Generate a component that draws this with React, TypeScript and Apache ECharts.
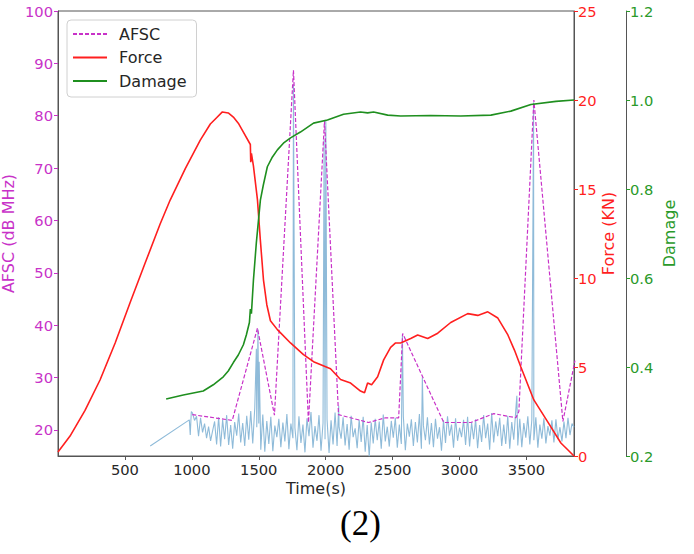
import React, { useEffect, useRef } from "react";
import * as echarts from "echarts";

// ---- axis ticks ----
const timeTicks = [500, 1000, 1500, 2000, 2500, 3000, 3500];
const afscTicks = [20, 30, 40, 50, 60, 70, 80, 90, 100];

// ---- AFSC (dashed magenta) [time, dB MHz] ----
const afscPoints: [number, number][] = [
  [1003, 22.9], [1302, 21.8], [1490, 39.4], [1617, 22.8], [1759, 88.7],
  [1871, 21.4], [1991, 79.0], [2096, 22.9], [2320, 21.4], [2448, 22.3],
  [2545, 22.3], [2575, 38.4], [2882, 21.4], [3084, 21.4], [3256, 23.1],
  [3421, 22.3], [3443, 23.5], [3555, 83.0], [3772, 21.6], [3862, 33.2],
];

// ---- Force (red) [time, kN] ----
const forcePoints: [number, number][] = [
  [0, 0.22], [90, 1.12], [202, 2.56], [314, 4.27], [427, 6.35], [539, 8.62],
  [651, 10.84], [763, 13.03], [838, 14.38], [951, 16.15], [1063, 17.75],
  [1138, 18.65], [1183, 18.99], [1228, 19.33], [1272, 19.27], [1310, 19.04],
  [1347, 18.7], [1385, 18.2], [1437, 17.5],
  [1440, 16.5], [1445, 17.0], [1460, 16.3], [1490, 14.4], [1512, 12.1],
  [1535, 9.9], [1560, 8.5], [1587, 7.6], [1639, 7.1], [1737, 6.35], [1834, 5.7],
  [1909, 5.3], [2036, 4.9], [2111, 4.3], [2186, 4.1], [2260, 3.65],
  [2290, 3.55], [2313, 4.1], [2343, 4.0], [2388, 4.45], [2433, 5.4],
  [2485, 6.1], [2522, 6.35], [2560, 6.35], [2635, 6.6], [2687, 6.8],
  [2762, 6.6], [2837, 6.9], [2934, 7.5], [3061, 8.0], [3136, 7.9],
  [3211, 8.1], [3286, 7.75], [3361, 6.8], [3410, 5.95], [3458, 5.0], [3555, 3.15],
  [3660, 1.9], [3757, 0.73], [3810, 0.34], [3855, 0.0],
];

// ---- Damage (green) [time, damage] ----
const damagePoints: [number, number][] = [
  [808, 0.328], [936, 0.337], [1085, 0.346], [1160, 0.36], [1235, 0.378],
  [1272, 0.391], [1310, 0.41], [1347, 0.427], [1385, 0.45], [1407, 0.472],
  [1430, 0.5], [1437, 0.53], [1445, 0.52],
  [1460, 0.595], [1482, 0.68], [1512, 0.775], [1534, 0.809], [1564, 0.85],
  [1602, 0.872], [1639, 0.888], [1684, 0.903],
  [1737, 0.915], [1811, 0.928], [1909, 0.948], [2013, 0.955], [2133, 0.968],
  [2260, 0.973], [2313, 0.971], [2358, 0.973], [2463, 0.966], [2560, 0.964],
  [2784, 0.965], [3009, 0.964], [3234, 0.966], [3383, 0.975], [3533, 0.99],
  [3720, 0.997], [3855, 1.0],
];

// ---- raw AFSC signal (light blue) ----
const rawLead: [number, number][] = [
  [689, 16.9], [981, 21.9], [988, 19.0], [996, 23.5],
];
const rawStart = 1005;
const rawStep = 15;
const rawValues = [
  23.2, 21.8, 22.6, 18.8, 22.3, 19.5, 21.2, 18.4, 20.6, 17.9,
  19.8, 21.6, 17.2, 22.4, 16.8, 21.9, 18.2, 22.8, 17.1, 20.9,
  16.4, 21.5, 18.9, 23.1, 17.6, 21.3, 16.9, 22.7, 18.1, 23.6,
  17.4, 24.2, 20.5, 21.2, 16.2, 22.9, 15.8, 21.7, 17.3, 22.5,
  15.9, 20.8, 18.6, 22.1, 16.7, 21.4, 17.8, 23.0, 16.3, 21.2,
  18.4, 20.4, 16.1, 22.6, 17.5, 21.0, 15.7, 22.2, 18.8, 23.4,
  16.6, 20.7, 17.9, 22.8, 16.0, 21.3, 18.2, 22.0, 15.6, 21.8,
  17.2, 23.3, 16.9, 20.5, 18.3, 22.4, 17.0, 21.1, 16.2, 22.7,
  18.6, 20.3, 16.5, 21.9, 17.7, 22.5, 15.8, 20.9, 14.9, 21.4,
  17.4, 22.1, 18.0, 21.6, 16.4, 22.9, 17.8, 20.6, 16.8, 21.7,
  18.5, 22.3, 16.6, 21.0, 17.3, 22.6, 16.1, 21.2, 18.7, 22.0,
  16.9, 21.5, 17.6, 23.0, 16.4, 20.8, 18.0, 22.4, 17.2, 21.3,
  16.7, 22.1, 18.3, 20.5, 16.0, 21.8, 17.5, 22.6, 18.9, 21.0,
  16.6, 22.2, 17.9, 20.4, 18.6, 21.9, 17.1, 22.5, 16.8, 21.4,
  18.2, 22.0, 16.5, 20.9, 17.7, 22.8, 18.4, 21.2, 16.2, 23.2,
  17.6, 21.6, 18.8, 22.3, 16.9, 21.0, 17.3, 22.7, 16.4, 21.5,
  18.1, 23.8, 17.0, 22.1, 16.7, 21.3, 18.5, 22.6, 17.2, 21.9,
  18.0, 22.4, 16.6, 21.0, 18.3, 22.2, 17.4, 20.7, 18.9, 21.8,
  17.6, 22.0, 18.2, 20.5, 17.8, 21.6, 18.4, 22.3, 19.0, 21.2,
  20.5,
];
const rawSpikes: [number, number][] = [
  [1482, 35.5], [1494, 39.2], [1503, 33.0], [1759, 86.0], [1988, 75.5],
  [2001, 79.0], [2097, 24.6], [2573, 38.2], [2722, 30.0], [3428, 26.5],
  [3553, 82.5],
];

const rawPoints: [number, number][] = [
  ...rawLead,
  ...rawValues.map((v, i) => [rawStart + i * rawStep, v] as [number, number]),
  ...rawSpikes,
].sort((a, b) => a[0] - b[0]);

const MAGENTA = "#c832c8";
const RED = "#ff1f1f";
const GREEN = "#1f8f1f";
const GREEN_TXT = "#2a9a2a";
const BLUE = "#8fbbd9";
const SPINE = "#555555";
const FONT = "DejaVu Sans";
const TICK_FS = 14.7;
const TITLE_FS = 16;

export default function App() {
  const ref = useRef<HTMLDivElement>(null);
  useEffect(() => {
    const chart = echarts.init(ref.current!, null, { renderer: "svg" });
    chart.setOption({
      animation: false,
      backgroundColor: "#ffffff",
      grid: {
        left: 58, right: 120, top: 11, bottom: 98,
        containLabel: false, outerBoundsMode: "none",
        show: true, borderColor: SPINE, borderWidth: 1,
        backgroundColor: "transparent",
      },
      legend: {
        data: ["AFSC", "Force", "Damage"],
        orient: "vertical",
        left: 67, top: 20,
        itemWidth: 34, itemHeight: 14, itemGap: 7.5,
        padding: [6, 10, 8, 5],
        itemStyle: { opacity: 0, borderWidth: 0 },
        backgroundColor: "rgba(255,255,255,0.85)",
        borderColor: "#d0d0d0", borderWidth: 1, borderRadius: 4,
        textStyle: { fontFamily: FONT, fontSize: TITLE_FS, color: "#262626", padding: [0, 0, 0, 7] },
      },
      graphic: [
        {
          type: "text", left: 340, top: 506,
          style: { text: "(2)", fontFamily: "Liberation Serif", fontSize: 35, fill: "#000" },
        },
      ],
      xAxis: {
        type: "value", min: 0, max: 3855,
        name: "Time(s)", nameLocation: "middle", nameGap: 24, nameMoveOverlap: false,
        nameTextStyle: { fontFamily: FONT, fontSize: TITLE_FS, color: "#262626" },
        axisLine: { show: true, lineStyle: { color: SPINE } },
        axisTick: { show: true, length: 4, lineStyle: { color: SPINE }, customValues: timeTicks },
        axisLabel: {
          fontFamily: FONT, fontSize: TICK_FS, color: "#262626", margin: 6,
          customValues: timeTicks, formatter: (v: number) => String(v),
        },
        splitLine: { show: false },
      },
      yAxis: [
        {
          type: "value", min: 15, max: 100, position: "left",
          name: "AFSC (dB MHz)", nameLocation: "middle", nameGap: 42, nameRotate: 90,
          nameMoveOverlap: false,
          nameTextStyle: { fontFamily: FONT, fontSize: TITLE_FS, color: MAGENTA },
          axisLine: { show: true, lineStyle: { color: SPINE } },
          axisTick: { show: true, length: 4, lineStyle: { color: MAGENTA }, customValues: afscTicks },
          axisLabel: { fontFamily: FONT, fontSize: TICK_FS, color: MAGENTA, margin: 5, customValues: afscTicks },
          splitLine: { show: false },
        },
        {
          type: "value", min: 0, max: 25, interval: 5, position: "right",
          name: "Force (KN)", nameLocation: "middle", nameGap: 26, nameRotate: 90,
          nameMoveOverlap: false,
          nameTextStyle: { fontFamily: FONT, fontSize: TITLE_FS, color: RED },
          axisLine: { show: true, lineStyle: { color: SPINE } },
          axisTick: { show: true, length: 4, lineStyle: { color: RED } },
          axisLabel: { fontFamily: FONT, fontSize: TICK_FS, color: RED, margin: 4 },
          splitLine: { show: false },
        },
        {
          type: "value", min: 0.2, max: 1.2, interval: 0.2, position: "right", offset: 52,
          name: "Damage", nameLocation: "middle", nameGap: 35, nameRotate: 90,
          nameMoveOverlap: false,
          nameTextStyle: { fontFamily: FONT, fontSize: TITLE_FS, color: GREEN_TXT },
          axisLine: { show: true, lineStyle: { color: SPINE } },
          axisTick: { show: true, length: 4, lineStyle: { color: GREEN_TXT } },
          axisLabel: {
            fontFamily: FONT, fontSize: TICK_FS, color: GREEN_TXT, margin: 4,
            formatter: (v: number) => v.toFixed(1),
          },
          splitLine: { show: false },
        },
      ],
      series: [
        {
          name: "raw", type: "line", yAxisIndex: 0, data: rawPoints,
          symbol: "none", z: 1, silent: true,
          lineStyle: { color: BLUE, width: 1.1 },
        },
        {
          name: "AFSC", type: "line", yAxisIndex: 0, data: afscPoints,
          symbol: "none", z: 2, color: MAGENTA,
          lineStyle: { color: MAGENTA, width: 1.2, type: [4, 2] },
        },
        {
          name: "Force", type: "line", yAxisIndex: 1, data: forcePoints,
          symbol: "none", z: 3, color: RED,
          lineStyle: { color: RED, width: 1.6 },
        },
        {
          name: "Damage", type: "line", yAxisIndex: 2, data: damagePoints,
          symbol: "none", z: 3, color: GREEN,
          lineStyle: { color: GREEN, width: 1.6 },
        },
      ],
    });
    return () => chart.dispose();
  }, []);
  return (
    <div
      ref={ref}
      style={{ position: "absolute", left: 0, top: 0, width: 694, height: 554, background: "#fff" }}
    />
  );
}
